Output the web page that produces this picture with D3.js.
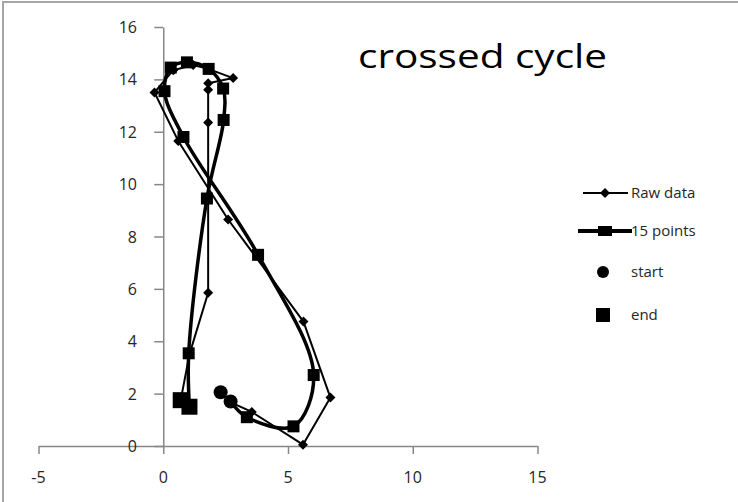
<!DOCTYPE html>
<html>
<head>
<meta charset="utf-8">
<script src="https://cdn.jsdelivr.net/npm/d3@7"></script>
<style>
  body { margin: 0; background: #fff; }
  svg { display: block; }
</style>
</head>
<body>
<svg id="chart" width="738" height="502"></svg>
<script>
const svg = d3.select("#chart");

// raw trajectory (diamonds)
const rawX = [2.3, 2.75, 3.55, 5.6, 6.7, 5.62, 2.6, 0.6, -0.35, 0.4, 1.2, 1.8, 2.8, 1.8, 1.8, 1.8, 1.8, 1.05, 0.7];
const rawY = [2.05, 1.65, 1.3, 0.05, 1.85, 4.75, 8.65, 11.65, 13.5, 14.35, 14.55, 14.4, 14.05, 13.85, 13.6, 12.35, 5.85, 3.5, 1.75];

// 15 resampled points (squares, smoothed line)
const ptsX = [2.7, 3.35, 5.22, 6.03, 3.8, 0.81, 0.05, 0.3, 0.95, 1.82, 2.4, 2.42, 1.75, 1.02, 1.05];
const ptsY = [1.7, 1.1, 0.75, 2.71, 7.3, 11.8, 13.55, 14.45, 14.65, 14.4, 13.65, 12.45, 9.45, 3.54, 1.5];

// start / end markers
const startX = [2.3, 2.7];
const startY = [2.05, 1.7];
const endX = [0.7, 1.05];
const endY = [1.75, 1.5];

const xTicks = [-5, 0, 5, 10, 15];
const yTicks = [0, 2, 4, 6, 8, 10, 12, 14, 16];
const legendLabels = ["Raw data", "15 points", "start", "end"];

const x = d3.scaleLinear().domain([-5, 15]).range([38.5, 537.5]);
const y = d3.scaleLinear().domain([0, 16]).range([446, 27]);

const axisColor = "#878787";
const textColor = "#262626";
const font = "'Open Sans', 'Liberation Sans', sans-serif";

// outer frame
svg.append("rect")
  .attr("x", 3).attr("y", 2)
  .attr("width", 760).attr("height", 520)
  .attr("fill", "none")
  .attr("stroke", "#a6a6a6")
  .attr("stroke-width", 2);

// x axis
const xAxis = svg.append("g").attr("transform", `translate(0,${y(0)})`)
  .call(d3.axisBottom(x).tickValues(xTicks).tickSize(8).tickSizeOuter(0).tickFormat(""));
xAxis.select(".domain").attr("stroke", axisColor).attr("stroke-width", 1.5);
xAxis.selectAll(".tick line").attr("stroke", axisColor).attr("stroke-width", 1.5);

svg.selectAll("text.xlab").data(xTicks).enter().append("text")
  .attr("class", "xlab")
  .attr("x", d => x(d))
  .attr("y", 483)
  .attr("text-anchor", "middle")
  .attr("font-family", font)
  .attr("font-size", 16)
  .attr("fill", textColor)
  .text(d => d);

// y axis
const yAxis = svg.append("g").attr("transform", `translate(${x(0)},0)`)
  .call(d3.axisLeft(y).tickValues(yTicks).tickSize(9).tickSizeOuter(0).tickFormat(""));
yAxis.select(".domain").attr("stroke", axisColor).attr("stroke-width", 1.5);
yAxis.selectAll(".tick line").attr("stroke", axisColor).attr("stroke-width", 1.5);

svg.selectAll("text.ylab").data(yTicks).enter().append("text")
  .attr("class", "ylab")
  .attr("x", 137)
  .attr("y", d => y(d) + 6)
  .attr("text-anchor", "end")
  .attr("font-family", font)
  .attr("font-size", 16)
  .attr("fill", textColor)
  .text(d => d);

// series
const rawData = rawX.map((v, i) => [v, rawY[i]]);
const ptsData = ptsX.map((v, i) => [v, ptsY[i]]);

const diamond = d3.symbol().type(d3.symbolSquare).size(50);
const square = d3.symbol().type(d3.symbolSquare).size(144);

svg.append("path")
  .datum(rawData)
  .attr("fill", "none")
  .attr("stroke", "#000")
  .attr("stroke-width", 2)
  .attr("stroke-linejoin", "round")
  .attr("d", d3.line().x(d => x(d[0])).y(d => y(d[1])));

svg.append("path")
  .datum(ptsData)
  .attr("fill", "none")
  .attr("stroke", "#000")
  .attr("stroke-width", 3.5)
  .attr("stroke-linejoin", "round")
  .attr("d", d3.line().curve(d3.curveCatmullRom.alpha(0.5)).x(d => x(d[0])).y(d => y(d[1])));

// first and last points carry the start / end markers instead
svg.selectAll("path.raw").data(rawData.slice(1, -1)).enter().append("path")
  .attr("class", "raw")
  .attr("d", diamond)
  .attr("transform", d => `translate(${x(d[0])},${y(d[1])}) rotate(45)`)
  .attr("fill", "#000");

svg.selectAll("path.pts").data(ptsData.slice(1, -1)).enter().append("path")
  .attr("class", "pts")
  .attr("d", square)
  .attr("transform", d => `translate(${x(d[0])},${y(d[1])})`)
  .attr("fill", "#000");

svg.selectAll("circle.start").data(startX).enter().append("circle")
  .attr("class", "start")
  .attr("cx", d => x(d))
  .attr("cy", (d, i) => y(startY[i]))
  .attr("r", 7)
  .attr("fill", "#000");

svg.selectAll("rect.end").data(endX).enter().append("rect")
  .attr("class", "end")
  .attr("x", d => x(d) - 8)
  .attr("y", (d, i) => y(endY[i]) - 8)
  .attr("width", 16).attr("height", 16)
  .attr("fill", "#000");

// title inside plot
svg.append("text")
  .attr("x", 358)
  .attr("y", 68)
  .attr("font-family", font)
  .attr("font-size", 33)
  .attr("fill", "#000")
  .attr("textLength", 249)
  .attr("lengthAdjust", "spacingAndGlyphs")
  .text("crossed cycle");

// legend
const legY = [193, 231, 272, 315];
const leg = svg.append("g");
leg.append("line").attr("x1", 583).attr("x2", 628).attr("y1", legY[0]).attr("y2", legY[0])
  .attr("stroke", "#000").attr("stroke-width", 2);
leg.append("path").attr("d", diamond).attr("transform", `translate(605,${legY[0]}) rotate(45)`);
leg.append("line").attr("x1", 578).attr("x2", 632).attr("y1", legY[1]).attr("y2", legY[1])
  .attr("stroke", "#000").attr("stroke-width", 4);
leg.append("rect").attr("x", 598).attr("y", legY[1] - 5).attr("width", 14).attr("height", 10);
leg.append("circle").attr("cx", 603).attr("cy", legY[2]).attr("r", 6);
leg.append("rect").attr("x", 596).attr("y", legY[3] - 7).attr("width", 14).attr("height", 14);
leg.selectAll("text").data(legendLabels).enter().append("text")
  .attr("x", 631)
  .attr("y", (d, i) => legY[i] + 5)
  .attr("font-family", font)
  .attr("font-size", 15)
  .attr("fill", textColor)
  .text(d => d);
</script>
</body>
</html>
